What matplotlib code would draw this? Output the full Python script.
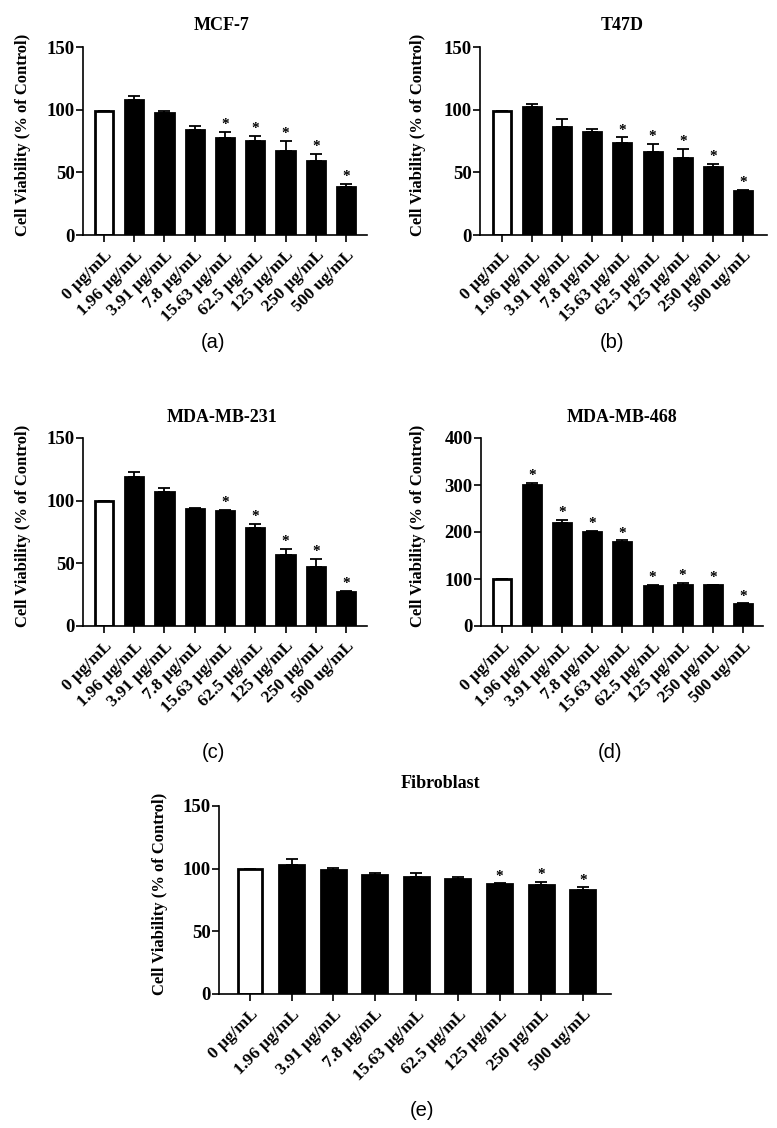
"""Cell viability bar panels (MCF-7, T47D, MDA-MB-231, MDA-MB-468, Fibroblast)."""
import matplotlib
matplotlib.use("Agg")
import matplotlib.pyplot as plt

W, H = 777, 1128

DOSES = ["0 μg/mL", "1.96 μg/mL", "3.91 μg/mL", "7.8 μg/mL", "15.63 μg/mL",
         "62.5 μg/mL", "125 μg/mL", "250 μg/mL", "500 ug/mL"]

MCF7 = [99, 107.5, 97, 83.5, 77.5, 75.3, 67, 59, 38]
MCF7_ERR = [0, 3.5, 2, 3.5, 4.5, 3.7, 8, 6, 3]
MCF7_SIG = [4, 5, 6, 7, 8]

T47D = [99, 102, 86, 81.8, 73.3, 66.3, 61.3, 54, 35.4]
T47D_ERR = [0, 2.5, 6.7, 2.7, 4.5, 6.2, 7.2, 2.5, 0.8]
T47D_SIG = [4, 5, 6, 7, 8]

MDA231 = [99.5, 118.5, 107, 93.4, 91.5, 78.2, 56.3, 47, 27.2]
MDA231_ERR = [0, 4, 3.5, 1.1, 1.1, 3.2, 5.3, 6.4, 0.6]
MDA231_SIG = [4, 5, 6, 7, 8]

MDA468 = [99, 299, 219, 200, 178, 85, 87, 87, 46]
MDA468_ERR = [0, 5, 6, 1.5, 4, 2.5, 5.5, 1, 2]
MDA468_SIG = [1, 2, 3, 4, 5, 6, 7, 8]

FIBRO = [100, 102.8, 98.6, 94.6, 93.5, 91.4, 87.4, 87, 83]
FIBRO_ERR = [0, 4.6, 2.1, 1.9, 2.7, 2.1, 0.8, 2.3, 2]
FIBRO_SIG = [6, 7, 8]

SERIF = ["Liberation Serif", "DejaVu Serif"]
SANS = ["Liberation Sans", "DejaVu Sans"]

# (title, values, err, sig, ymax, yticks, axes px (l, t, r, b), xlim,
#  title px, letter, letter px, ylabel x px)
PANELS = [
    ("MCF-7", MCF7, MCF7_ERR, MCF7_SIG, 150, [0, 50, 100, 150],
     (83, 47, 367, 235), (-0.69, 8.69), (222, 25), "(a)", (213, 342), 23),
    ("T47D", T47D, T47D_ERR, T47D_SIG, 150, [0, 50, 100, 150],
     (480, 47, 767, 235), (-0.73, 8.80), (622, 25), "(b)", (612, 342), 418),
    ("MDA-MB-231", MDA231, MDA231_ERR, MDA231_SIG, 150, [0, 50, 100, 150],
     (83, 438, 367, 626), (-0.69, 8.69), (222, 417), "(c)", (213, 752), 23),
    ("MDA-MB-468", MDA468, MDA468_ERR, MDA468_SIG, 400, [0, 100, 200, 300, 400],
     (481, 438, 763, 626), (-0.70, 8.67), (622, 417), "(d)", (610, 752), 418),
    ("Fibroblast", FIBRO, FIBRO_ERR, FIBRO_SIG, 150, [0, 50, 100, 150],
     (219, 806, 611, 994), (-0.745, 8.68), (440, 783), "(e)", (422, 1110), 160),
]


def fx(px):
    return px / W


def fy(py):
    return 1 - py / H


fig = plt.figure(figsize=(W / 100, H / 100), dpi=100)

for (title, vals, err, sig, ymax, yticks, (l, t, r, b), xlim,
     tpos, letter, lpos, ylx) in PANELS:
    ax = fig.add_axes([fx(l), fy(b), fx(r) - fx(l), fy(t) - fy(b)])
    x = list(range(len(vals)))
    colors = ["white"] + ["black"] * (len(vals) - 1)
    ax.bar(x, vals, width=0.6, color=colors, edgecolor="black", linewidth=2.0, zorder=2)
    # upper-only error bars, GraphPad style
    lo = [0] * len(vals)
    ax.errorbar(x, vals, yerr=[lo, err], fmt="none", ecolor="black",
                elinewidth=1.3, capsize=4.5, capthick=1.3, zorder=3)
    for i in sig:
        ax.text(i, vals[i] + err[i] + ymax * 0.005, "*", ha="center", va="bottom",
                fontsize=11, fontweight="bold", family=SERIF)

    ax.set_xlim(*xlim)
    ax.set_ylim(0, ymax)
    ax.set_yticks(yticks)
    ax.set_yticklabels([str(v) for v in yticks], family=SERIF, fontweight="bold", fontsize=13.5)
    ax.set_xticks(x)
    ax.set_xticklabels(DOSES, rotation=45, ha="right", rotation_mode="anchor",
                       family=SERIF, fontweight="bold", fontsize=12.5)
    for s in ("top", "right"):
        ax.spines[s].set_visible(False)
    for s in ("left", "bottom"):
        ax.spines[s].set_linewidth(1.2)
    ax.tick_params(axis="y", length=5, width=1.2, pad=1)
    ax.tick_params(axis="x", length=5, width=1.2, pad=4)

    fig.text(fx(tpos[0]), fy(tpos[1]), title, ha="center", va="center",
             family=SERIF, fontweight="bold", fontsize=13)
    fig.text(fx(ylx), fy((t + b) / 2 - 6), "Cell Viability (% of Control)",
             rotation=90, ha="center", va="center",
             family=SERIF, fontweight="bold", fontsize=12)
    fig.text(fx(lpos[0]), fy(lpos[1]), letter, ha="center", va="center",
             family=SANS, fontsize=14.5)

fig.savefig("out.png", dpi=100)
